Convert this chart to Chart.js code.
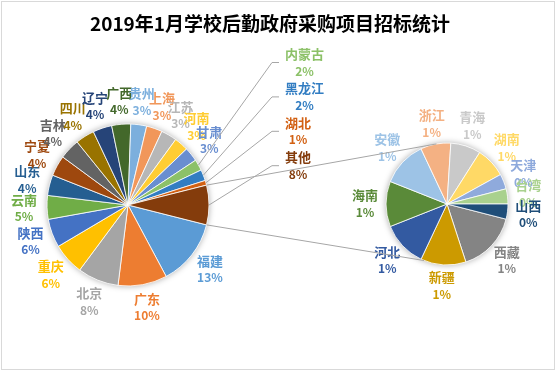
<!DOCTYPE html>
<html>
<head>
<meta charset="utf-8">
<script src="https://cdn.jsdelivr.net/npm/chart.js@4.4.0/dist/chart.umd.min.js"></script>
<style>
  html, body { margin: 0; padding: 0; background: #fff; }
  #marco { position: relative; width: 556px; height: 372px; }
  #marco canvas { position: absolute; left: 0; top: 0; }
  #borde { position: absolute; left: 1px; top: 1px; width: 554px; height: 369px; border: 1px solid #d9d9d9; box-sizing: border-box; }
</style>
</head>
<body>
<div id="marco">
  <div id="borde"></div>
  <canvas id="pastelPrincipal" width="556" height="372"></canvas>
  <canvas id="pastelSecundario" width="556" height="372"></canvas>
</div>
<script>
const titulo = "2019年1月学校后勤政府采购项目招标统计";

// pastel principal
const provincias = ["福建", "广东", "北京", "重庆", "陕西", "云南", "山东", "宁夏", "吉林", "四川",
  "辽宁", "广西", "贵州", "上海", "江苏", "河南", "甘肃", "内蒙古", "黑龙江", "湖北"];
const proyectos = [42, 31, 26, 20, 18, 15, 13, 13, 13, 12, 12, 12, 10, 10, 10, 9, 9, 7, 7, 3];

// pastel secundario (el "其他")
const etiquetaOtros = "其他";
const otrasProvincias = ["西藏", "新疆", "河北", "海南", "安徽", "浙江", "青海", "湖南", "天津", "台湾", "山西"];
const otrosProyectos = [4, 3, 3, 3, 3, 2, 2, 2, 1, 1, 1];

const coloresPrincipal = ["#5B9BD5", "#ED7D31", "#A5A5A5", "#FFC000", "#4472C4", "#70AD47", "#255E91",
  "#9E480E", "#636363", "#997300", "#264478", "#43682B", "#7CAFDD", "#F1975A", "#B7B7B7", "#FFCD33",
  "#698ED0", "#8CC168", "#327DC2", "#D26012", "#843C0C"];
const coloresSecundario = ["#848484", "#CC9A00", "#335AA1", "#5A8A39", "#9DC3E6", "#F4B183", "#C9C9C9",
  "#FFD966", "#8FAADC", "#A9D18E", "#1F4E79"];

// etiquetas que Excel saco a una columna con linea guia
const etiquetasMovidas = ["内蒙古", "黑龙江", "湖北", "其他"];

const totalOtros = otrosProyectos.reduce((a, b) => a + b, 0);
const totalGeneral = proyectos.reduce((a, b) => a + b, 0) + totalOtros;

function porcentaje(v) {
  return Math.round(v / totalGeneral * 100) + "%";
}

const fuente = '"Noto Sans CJK SC", "Noto Sans", sans-serif';
const colorGuia = "#a6a6a6";

// sombra suave bajo el pastel
const sombra = {
  id: 'sombra',
  beforeDatasetsDraw(chart) {
    const arco = chart.getDatasetMeta(0).data[0];
    const ctx = chart.ctx;
    ctx.save();
    ctx.shadowColor = 'rgba(0, 0, 0, 0.35)';
    ctx.shadowBlur = 6;
    ctx.fillStyle = '#fff';
    ctx.beginPath();
    ctx.arc(arco.x, arco.y, arco.outerRadius, 0, Math.PI * 2);
    ctx.fill();
    ctx.restore();
  }
};

function dibujarEtiqueta(ctx, nombre, pct, color, cx, cy) {
  ctx.fillStyle = color;
  ctx.font = 'bold 13px ' + fuente;
  ctx.fillText(nombre, cx, cy - 8.5);
  ctx.font = 'bold 12px ' + fuente;
  ctx.fillText(pct, cx, cy + 8.5);
}

function etiquetas(distancia) {
  return {
    id: 'etiquetas',
    afterDatasetsDraw(chart) {
      const ctx = chart.ctx;
      const arcos = chart.getDatasetMeta(0).data;
      const nombres = chart.data.labels;
      const valores = chart.data.datasets[0].data;
      const colores = chart.data.datasets[0].backgroundColor;
      ctx.save();
      ctx.textAlign = 'center';
      ctx.textBaseline = 'middle';
      arcos.forEach(function (arco, i) {
        const medio = (arco.startAngle + arco.endAngle) / 2;
        const pct = porcentaje(valores[i]);
        const k = etiquetasMovidas.indexOf(nombres[i]);
        if (k >= 0) {
          // columna a la derecha con linea guia
          const y = 62.5 + k * 34.4;
          const izq = 285;
          ctx.font = 'bold 13px ' + fuente;
          let ancho = ctx.measureText(nombres[i]).width;
          ctx.font = 'bold 12px ' + fuente;
          ancho = Math.max(ancho, ctx.measureText(pct).width);
          ctx.strokeStyle = colorGuia;
          ctx.lineWidth = 1;
          ctx.beginPath();
          ctx.moveTo(arco.x + Math.cos(medio) * arco.outerRadius, arco.y + Math.sin(medio) * arco.outerRadius);
          ctx.lineTo(izq - 13, y);
          ctx.lineTo(izq - 6, y);
          ctx.stroke();
          dibujarEtiqueta(ctx, nombres[i], pct, colores[i], izq + ancho / 2, y);
        } else {
          const r = arco.outerRadius + distancia;
          dibujarEtiqueta(ctx, nombres[i], pct, colores[i],
            arco.x + Math.cos(medio) * r, arco.y + Math.sin(medio) * r);
        }
      });
      ctx.restore();
    }
  };
}

const tituloPlugin = {
  id: 'titulo',
  afterDraw(chart) {
    const ctx = chart.ctx;
    ctx.save();
    ctx.fillStyle = '#000';
    ctx.font = 'bold 19px ' + fuente;
    ctx.textAlign = 'center';
    ctx.textBaseline = 'middle';
    ctx.fillText(titulo, 270, 24);
    ctx.restore();
  }
};

const graficoPrincipal = new Chart(document.getElementById("pastelPrincipal").getContext("2d"), {
  type: "pie",
  data: {
    labels: provincias.concat([etiquetaOtros]),
    datasets: [{
      data: proyectos.concat([totalOtros]),
      backgroundColor: coloresPrincipal,
      borderColor: '#ffffff',
      borderWidth: 0.8
    }]
  },
  options: {
    responsive: false,
    animation: false,
    radius: 81,
    // el "其他" queda centrado a las 3 en punto
    rotation: 90 + totalOtros / totalGeneral * 180,
    layout: { padding: { left: 47, right: 347, top: 124, bottom: 86 } },
    plugins: {
      legend: { display: false },
      tooltip: { enabled: false }
    }
  },
  plugins: [sombra, etiquetas(23), tituloPlugin]
});

// lineas que unen el "其他" con el pastel secundario
const conectores = {
  id: 'conectores',
  afterDraw(chart) {
    const otros = graficoPrincipal.getDatasetMeta(0).data[provincias.length];
    const sec = chart.getDatasetMeta(0).data[0];
    const ctx = chart.ctx;
    const puntas = [
      [otros.startAngle, -100 * Math.PI / 180],
      [otros.endAngle, 112 * Math.PI / 180]
    ];
    ctx.save();
    ctx.strokeStyle = colorGuia;
    ctx.lineWidth = 1;
    puntas.forEach(function (p) {
      ctx.beginPath();
      ctx.moveTo(otros.x + Math.cos(p[0]) * otros.outerRadius, otros.y + Math.sin(p[0]) * otros.outerRadius);
      ctx.lineTo(sec.x + Math.cos(p[1]) * sec.outerRadius, sec.y + Math.sin(p[1]) * sec.outerRadius);
      ctx.stroke();
    });
    ctx.restore();
  }
};

new Chart(document.getElementById("pastelSecundario").getContext("2d"), {
  type: "pie",
  data: {
    labels: otrasProvincias,
    datasets: [{
      data: otrosProyectos,
      backgroundColor: coloresSecundario,
      borderColor: '#ffffff',
      borderWidth: 0.8
    }]
  },
  options: {
    responsive: false,
    animation: false,
    radius: 61,
    rotation: 90 + otrosProyectos[otrosProyectos.length - 1] / totalOtros * 360,
    layout: { padding: { left: 386, right: 48, top: 143, bottom: 107 } },
    plugins: {
      legend: { display: false },
      tooltip: { enabled: false }
    }
  },
  plugins: [sombra, etiquetas(21), conectores]
});
</script>
</body>
</html>
